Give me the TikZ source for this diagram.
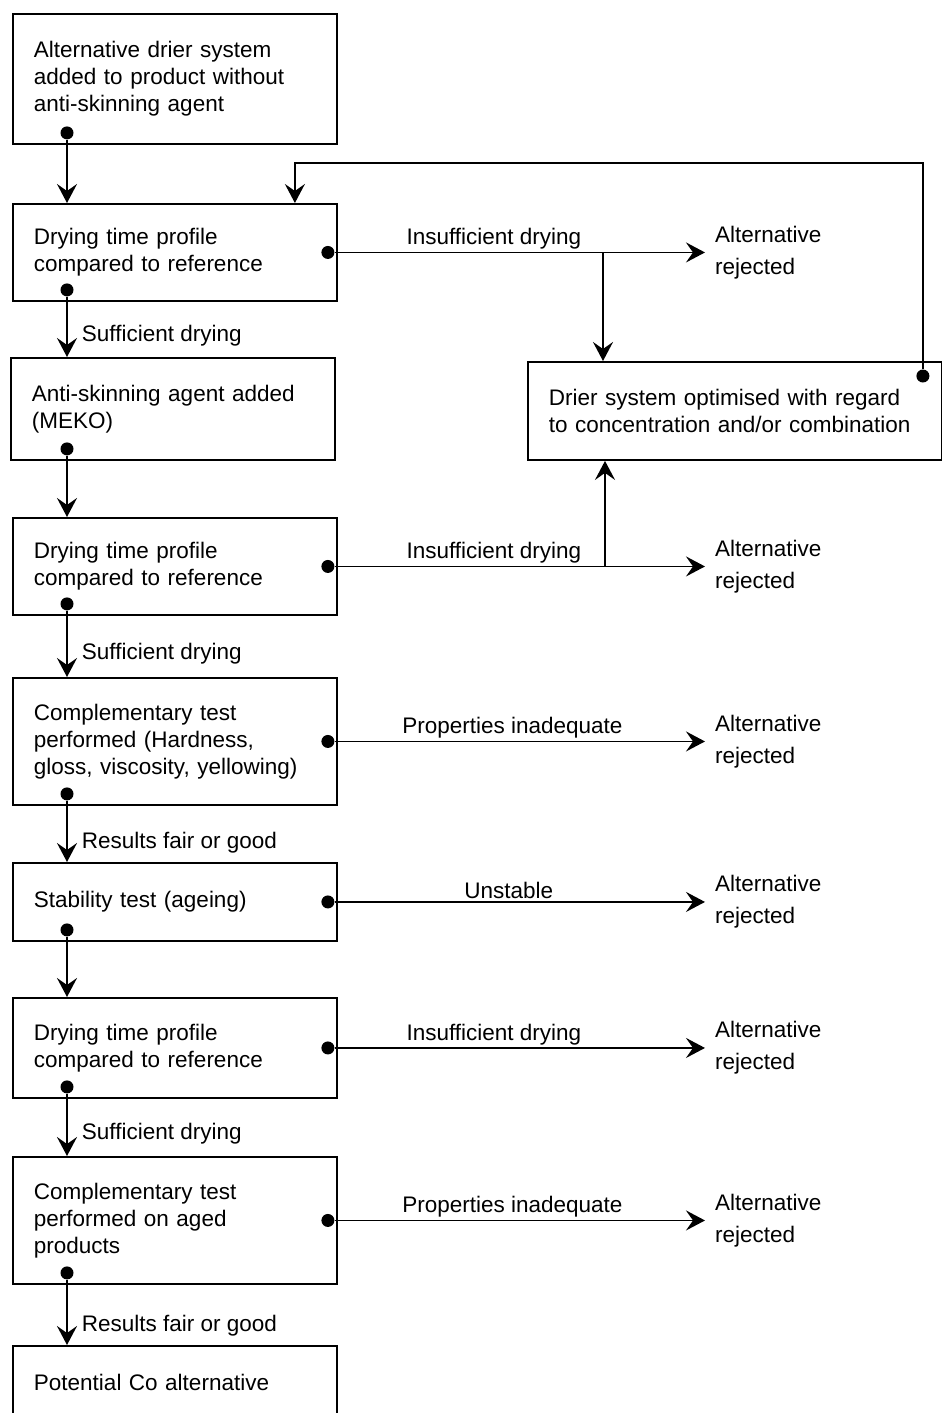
\documentclass[tikz,border=0pt]{standalone}
\usepackage{fontspec}
\setmainfont{Liberation Sans}
\usetikzlibrary{arrows.meta,positioning}

\begin{document}
\begin{tikzpicture}[
  x=1pt, y=-1pt,
  every node/.style={font=\fontsize{22.5}{27}\selectfont},
  box/.style={draw, line width=1.9pt, anchor=north west, align=left, text width=282pt, inner xsep=21pt, inner ysep=0pt},
  rej/.style={anchor=west, align=left, inner xsep=10pt, font=\fontsize{22.5}{32}\selectfont},
  dot/.style={circle, fill, inner sep=0pt, minimum size=13pt},
  lab/.style={inner sep=2pt},
  flow/.style={-{Stealth[length=19pt, width=20pt, inset=7pt]}, line width=1.9pt}
]
\useasboundingbox (0,0) rectangle (942,1413);

% main column
\node[box, minimum height=130pt] (start) at (12,13) {Alternative drier system\\added to product without\\anti-skinning agent};
\node[box, minimum height=97pt] (dry1) at (12,203) {Drying time profile\\compared to reference};
\node[box, minimum height=102pt] (meko) at (10,357) {Anti-skinning agent added\\(MEKO)};
\node[box, minimum height=97pt] (dry2) at (12,517) {Drying time profile\\compared to reference};
\node[box, minimum height=127pt] (comp1) at (12,677) {Complementary test\\performed (Hardness,\\gloss, viscosity, yellowing)};
\node[box, minimum height=78pt] (stab) at (12,862) {Stability test (ageing)};
\node[box, minimum height=100pt] (dry3) at (12,997) {Drying time profile\\compared to reference};
\node[box, minimum height=127pt] (comp2) at (12,1156) {Complementary test\\performed on aged\\products};
\node[box, minimum height=72pt] (final) at (12,1345) {Potential Co alternative};

% optimisation box
\node[box, text width=372pt, minimum height=98pt] (opt) at (527,361) {Drier system optimised with regard\\to concentration and/or combination};

% start dots
\node[dot] (start-d) at ([shift={(55,-12)}]start.south west) {};
\node[dot] (dry1-d) at ([shift={(55,-12)}]dry1.south west) {};
\node[dot] (meko-d) at ([shift={(57,-12)}]meko.south west) {};
\node[dot] (dry2-d) at ([shift={(55,-12)}]dry2.south west) {};
\node[dot] (comp1-d) at ([shift={(55,-12)}]comp1.south west) {};
\node[dot] (stab-d) at ([shift={(55,-12)}]stab.south west) {};
\node[dot] (dry3-d) at ([shift={(55,-12)}]dry3.south west) {};
\node[dot] (comp2-d) at ([shift={(55,-12)}]comp2.south west) {};
\node[dot] (dry1-e) at ([xshift=-10pt]dry1.east) {};
\node[dot] (dry2-e) at ([xshift=-10pt]dry2.east) {};
\node[dot] (comp1-e) at ([xshift=-10pt]comp1.east) {};
\node[dot] (stab-e) at ([xshift=-10pt]stab.east) {};
\node[dot] (dry3-e) at ([xshift=-10pt]dry3.east) {};
\node[dot] (comp2-e) at ([xshift=-10pt]comp2.east) {};
\node[dot] (opt-d) at ([shift={(-20,15)}]opt.north east) {};

% rejections
\node[rej] (rej1) at (705,0 |- dry1-e) {Alternative\\rejected};
\node[rej] (rej2) at (705,0 |- dry2-e) {Alternative\\rejected};
\node[rej] (rej3) at (705,0 |- comp1-e) {Alternative\\rejected};
\node[rej] (rej4) at (705,0 |- stab-e) {Alternative\\rejected};
\node[rej] (rej5) at (705,0 |- dry3-e) {Alternative\\rejected};
\node[rej] (rej6) at (705,0 |- comp2-e) {Alternative\\rejected};

% downward flow
\draw[flow] (start-d) -- (start-d |- dry1.north);
\draw[flow] (dry1-d) -- node[lab, right=12pt, pos=.65] {Sufficient drying} (dry1-d |- meko.north);
\draw[flow] (meko-d) -- (meko-d |- dry2.north);
\draw[flow] (dry2-d) -- node[lab, right=12pt, pos=.65] {Sufficient drying} (dry2-d |- comp1.north);
\draw[flow] (comp1-d) -- node[lab, right=12pt, pos=.68] {Results fair or good} (comp1-d |- stab.north);
\draw[flow] (stab-d) -- (stab-d |- dry3.north);
\draw[flow] (dry3-d) -- node[lab, right=12pt, pos=.65] {Sufficient drying} (dry3-d |- comp2.north);
\draw[flow] (comp2-d) -- node[lab, right=12pt, pos=.7] {Results fair or good} (comp2-d |- final.north);

% failures
\draw[flow] (dry1-e) -- node[lab, above, pos=.43] {Insufficient drying} (rej1);
\draw[flow] (dry2-e) -- node[lab, above, pos=.43] {Insufficient drying} (rej2);
\draw[flow] (comp1-e) -- node[lab, above, pos=.48] {Properties inadequate} (rej3);
\draw[flow] (stab-e) -- node[lab, above, pos=.47] {Unstable} (rej4);
\draw[flow] (dry3-e) -- node[lab, above, pos=.43] {Insufficient drying} (rej5);
\draw[flow] (comp2-e) -- node[lab, above, pos=.48] {Properties inadequate} (rej6);

% optimisation loop
\draw[flow] ([xshift=76pt]opt.north west |- dry1-e) -- ([xshift=76pt]opt.north west);
\draw[flow] ([xshift=78pt]opt.south west |- dry2-e) -- ([xshift=78pt]opt.south west);
\draw[flow] (opt-d) |- ([shift={(-43,-40)}]dry1.north east) -- ([xshift=-43pt]dry1.north east);
\end{tikzpicture}
\end{document}
